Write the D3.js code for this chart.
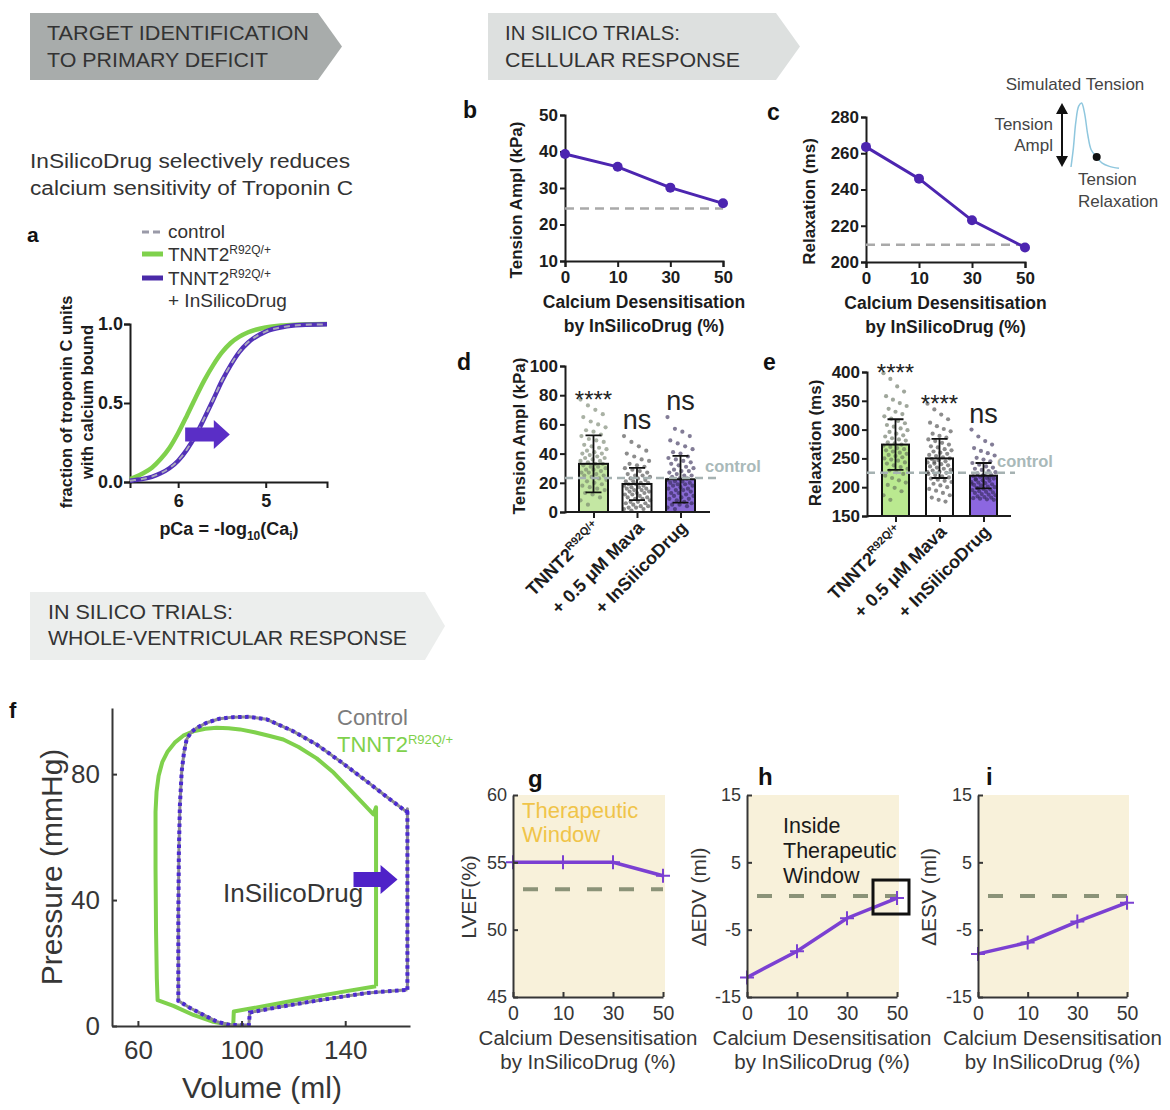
<!DOCTYPE html>
<html>
<head>
<meta charset="utf-8">
<script src="https://cdn.jsdelivr.net/npm/d3@7"></script>
<style>
  body { margin: 0; background: #fff; }
  svg { display: block; font-family: 'Liberation Sans', Arial, Helvetica, sans-serif; }
</style>
</head>
<body>
<svg id="fig" width="1170" height="1110"></svg>
<script>
// ---------- data ----------
// a: troponin C calcium binding curves
const pCa = [6.55, 6.5, 6.4, 6.3, 6.2, 6.1, 6.0, 5.9, 5.8, 5.7, 5.6, 5.5, 5.4, 5.3, 5.2, 5.0, 4.8, 4.6, 4.3]
const boundMutant = [0.02, 0.03, 0.055, 0.09, 0.145, 0.215, 0.31, 0.42, 0.535, 0.645, 0.74, 0.82, 0.88, 0.92, 0.948, 0.978, 0.991, 0.997, 1.0]
const boundDrug = [0.008, 0.012, 0.02, 0.033, 0.055, 0.087, 0.135, 0.205, 0.295, 0.405, 0.52, 0.64, 0.74, 0.824, 0.883, 0.952, 0.981, 0.993, 0.998]
const boundControl = [0.008, 0.012, 0.02, 0.034, 0.056, 0.088, 0.136, 0.206, 0.296, 0.406, 0.522, 0.641, 0.741, 0.825, 0.884, 0.952, 0.981, 0.993, 0.998]
const pCaTicks = [6, 5]
const fracTicks = [0, 0.5, 1]

// b, c: dose response
const doses = ['0', '10', '30', '50']
const tensionAmpl = [39.3, 35.8, 30.1, 25.8]
const tensionAmplControl = 24.4
const relaxation = [263.5, 246, 223, 208]
const relaxationControl = 209.5

// schematic tension trace for the inset (normalised time, normalised tension)
const traceT = [0, 0.05, 0.1, 0.16, 0.22, 0.28, 0.35, 0.42, 0.53, 0.65, 0.8, 1]
const traceV = [0, 0.3, 0.7, 0.95, 1.0, 0.85, 0.5, 0.27, 0.16, 0.06, 0.01, -0.02]
const traceDotT = 0.535

// d, e: bar + scatter
const groups = ['mutant', 'mava', 'drug']
const ampMean = [33, 19.2, 22.4]
const ampSD = [19.5, 11, 16]
const ampControl = 23.3
const ampSig = ['****', 'ns', 'ns']
const ampDots = [
  [77, 73, 70, 67, 65, 62, 60, 58, 56, 55, 53, 52, 50, 49, 48, 46, 45, 44, 43, 42, 41, 40, 40, 39, 38, 37, 37, 36, 35, 35, 34, 33, 33, 32, 31, 31, 30, 29, 29, 28, 27, 27, 26, 25, 25, 24, 23, 22, 21, 20, 19, 18, 17, 16, 15, 13, 12, 10, 8, 5],
  [52, 48, 45, 42, 40, 38, 36, 35, 33, 32, 31, 30, 29, 28, 27, 26, 25, 25, 24, 23, 23, 22, 21, 21, 20, 20, 19, 19, 18, 18, 17, 17, 16, 16, 15, 15, 14, 14, 13, 13, 12, 12, 11, 10, 10, 9, 9, 8, 7, 7, 6, 6, 5, 4, 4, 3, 3, 2, 2, 1],
  [65, 57, 55, 52, 49, 47, 45, 43, 41, 40, 38, 37, 36, 35, 34, 33, 32, 31, 30, 29, 28, 28, 27, 26, 25, 25, 24, 23, 23, 22, 21, 21, 20, 20, 19, 19, 18, 18, 17, 16, 16, 15, 15, 14, 13, 13, 12, 11, 11, 10, 9, 9, 8, 7, 6, 5, 5, 4, 3, 2]
]
const relMean = [274, 250, 220]
const relSD = [44, 34, 22]
const relControl = 225
const relSig = ['****', '****', 'ns']
const relDots = [
  [398, 388, 375, 366, 358, 352, 346, 341, 336, 331, 327, 323, 319, 315, 311, 308, 305, 302, 299, 296, 293, 290, 288, 285, 283, 281, 278, 276, 274, 272, 270, 268, 266, 264, 262, 260, 258, 256, 254, 252, 250, 248, 246, 243, 241, 238, 235, 232, 229, 226, 223, 220, 216, 212, 208, 204, 199, 193, 186, 178],
  [345, 335, 326, 318, 312, 306, 301, 297, 293, 289, 286, 283, 280, 277, 274, 271, 269, 266, 264, 262, 260, 258, 256, 254, 252, 250, 249, 247, 245, 243, 241, 240, 238, 236, 234, 232, 230, 229, 227, 225, 223, 221, 219, 217, 215, 213, 211, 209, 206, 203, 200, 197, 194, 190, 186, 182, 178, 175, 226, 244],
  [300, 288, 280, 274, 268, 263, 259, 255, 251, 248, 245, 242, 239, 236, 234, 232, 230, 228, 226, 224, 222, 221, 219, 218, 216, 215, 213, 212, 211, 209, 208, 207, 205, 204, 203, 201, 200, 199, 197, 196, 195, 193, 192, 191, 190, 188, 187, 186, 184, 183, 182, 181, 180, 179, 178, 214, 220, 217, 206, 198]
]

// f: pressure-volume loops [volume ml, pressure mmHg]
const pvMutant = [[151.9, 12.6], [151.9, 40], [151.9, 69.5], [150.9, 67.2], [146.5, 71], [141.9, 75], [135.5, 80.5], [129, 85], [122, 88.6], [116.1, 91], [110.5, 92.2], [105, 93.3], [99.4, 94.2], [95, 94.6], [90.4, 94.7], [86, 94.4], [81.4, 93.6], [77.5, 92.2], [74.2, 90], [71.5, 87.2], [69.4, 83.8], [68, 79.5], [67.2, 74.5], [66.8, 68], [66.8, 50], [67, 30], [67.3, 15], [67.6, 8.2], [73.7, 6.4], [81.4, 3.5], [89.1, 1.3], [95.6, 0.3], [96.8, 0.4], [97, 4.6], [110, 6.5], [125, 8.8], [140, 11], [151.9, 12.6]]
// control and InSilicoDrug loops coincide
const pvControl = [[164, 11.5], [164, 40], [164, 69], [163.7, 68], [156, 72.8], [148.3, 77.7], [138.5, 83.8], [129, 89.4], [119.5, 93.8], [109.7, 97.4], [103, 98.2], [96.8, 98.1], [91.5, 97.6], [86.5, 96.3], [82.7, 94.7], [80.5, 93.3], [78.8, 91], [77.8, 87], [76.9, 80.9], [76.2, 70], [75.8, 55], [75.6, 35], [75.6, 8], [80, 5.8], [84, 4.1], [90.4, 1.4], [95.6, 0.3], [102.8, 0.3], [103.2, 4.3], [115, 6.1], [130, 8.2], [148.3, 10.5], [164, 11.5]]
const volumeTicks = [60, 100, 140]
const pressureTicks = [0, 40, 80]

// g, h, i: whole-ventricle outputs
const lvef = [55, 55, 55, 54]
const lvefControl = 53
const dEDV = [-12.1, -8.2, -3.3, -0.3]
const dEDVControl = 0
const dESV = [-8.6, -6.9, -3.8, -1.0]
const dESVControl = 0

// ---------- drawing ----------
const svg = d3.select('#fig')
svg.append('rect').attr('width', 1170).attr('height', 1110).attr('fill', '#fff')

const GREEN = '#7fd14c'
const INK = '#1c1c1c'
const SOFT = '#363636'

function styleAxis (g, size, weight, color) {
  g.attr('font-family', null).attr('font-size', size).attr('font-weight', weight)
  g.select('.domain').attr('stroke', color).attr('stroke-width', 2)
  g.selectAll('.tick line').attr('stroke', color).attr('stroke-width', 2)
  g.selectAll('.tick text').attr('fill', color)
}

function yTitle (g, lines, x, y, size, weight, color, gap) {
  const t = g.append('text').attr('transform', `translate(${x},${y}) rotate(-90)`)
    .attr('text-anchor', 'middle').attr('font-size', size).attr('font-weight', weight).attr('fill', color)
  lines.forEach((l, i) => {
    t.append('tspan').attr('x', 0).attr('y', i * gap).attr('dy', '0.35em').text(l)
  })
  return t
}

function panelLabel (t, x, y, size) {
  svg.append('text').attr('x', x).attr('y', y).attr('font-size', size || 22)
    .attr('font-weight', 'bold').attr('fill', '#111').text(t)
}

// TNNT2 with the R92Q/+ superscript
function tnnt2 (sel, supSize, rise) {
  sel.append('tspan').text('TNNT2')
  sel.append('tspan').attr('dy', -rise).attr('font-size', supSize).text('R92Q/+')
  return sel
}

function blockArrow (g, x0, x1, yc, shaft, head, headLen, fill) {
  const xh = x1 - headLen
  g.append('path')
    .attr('d', `M${x0},${yc - shaft / 2}H${xh}V${yc - head / 2}L${x1},${yc}L${xh},${yc + head / 2}V${yc + shaft / 2}H${x0}Z`)
    .attr('fill', fill)
}

// banners
function banner (x0, xr, xt, y0, y1, fill, lines) {
  svg.append('path').attr('d', `M${x0},${y0}H${xr}L${xt},${(y0 + y1) / 2}L${xr},${y1}H${x0}Z`).attr('fill', fill)
  lines.forEach(l => {
    svg.append('text').attr('x', x0 + l.dx).attr('y', l.y).attr('font-size', 21).attr('fill', '#333')
      .attr('textLength', l.len).attr('lengthAdjust', 'spacingAndGlyphs').text(l.t)
  })
}
banner(30, 318, 342, 13, 80, '#a8acab', [
  { t: 'TARGET IDENTIFICATION', dx: 17, y: 40, len: 262 },
  { t: 'TO PRIMARY DEFICIT', dx: 17, y: 67, len: 221 }
])
banner(488, 776, 800, 13, 80, '#dde0df', [
  { t: 'IN SILICO TRIALS:', dx: 17, y: 40, len: 175 },
  { t: 'CELLULAR RESPONSE', dx: 17, y: 67, len: 235 }
])
banner(30, 425, 445, 592, 660, '#eceeed', [
  { t: 'IN SILICO TRIALS:', dx: 18, y: 619, len: 185 },
  { t: 'WHOLE-VENTRICULAR RESPONSE', dx: 18, y: 645, len: 359 }
])

svg.append('text').attr('x', 30).attr('y', 168).attr('font-size', 20).attr('fill', '#333')
  .attr('textLength', 320).attr('lengthAdjust', 'spacingAndGlyphs').text('InSilicoDrug selectively reduces')
svg.append('text').attr('x', 30).attr('y', 195).attr('font-size', 20).attr('fill', '#333')
  .attr('textLength', 323).attr('lengthAdjust', 'spacingAndGlyphs').text('calcium sensitivity of Troponin C')

// ---- panel a ----
;(function () {
  const g = svg.append('g')
  const x = d3.scaleLinear().domain([6.55, 4.3]).range([130, 327])
  const y = d3.scaleLinear().domain([0, 1]).range([482, 324])
  g.append('g').attr('transform', 'translate(0,482)')
    .call(d3.axisBottom(x).tickValues(pCaTicks).tickFormat(d3.format('d')).tickSizeOuter(0).tickSize(6).tickPadding(6))
    .call(s => styleAxis(s, 18, 'bold', INK))
  g.append('g').attr('transform', 'translate(130,0)')
    .call(d3.axisLeft(y).tickValues(fracTicks).tickFormat(d3.format('.1f')).tickSizeOuter(0).tickSize(6).tickPadding(1))
    .call(s => styleAxis(s, 18, 'bold', INK))

  const line = d3.line().x(d => x(d[0])).y(d => y(d[1])).curve(d3.curveMonotoneX)
  g.append('path').attr('d', line(pCa.map((p, i) => [p, boundMutant[i]])))
    .attr('fill', 'none').attr('stroke', GREEN).attr('stroke-width', 4.5)
  g.append('path').attr('d', line(pCa.map((p, i) => [p, boundDrug[i]])))
    .attr('fill', 'none').attr('stroke', '#5231b8').attr('stroke-width', 4.5)
  g.append('path').attr('d', line(pCa.map((p, i) => [p, boundControl[i]])))
    .attr('fill', 'none').attr('stroke', '#a9a7bd').attr('stroke-width', 2).attr('stroke-dasharray', '6,5')

  blockArrow(g, x(5.92), x(5.41), y(0.3), 14, 29, 16, '#5a2ec6')

  yTitle(g, ['fraction of troponin C units', 'with calcium bound'], 66, 402, 16.5, 'bold', INK, 21)
  const xt = g.append('text').attr('x', 229).attr('y', 535).attr('text-anchor', 'middle')
    .attr('font-size', 18).attr('font-weight', 'bold').attr('fill', INK)
  xt.append('tspan').text('pCa = -log')
  xt.append('tspan').attr('dy', 5).attr('font-size', 12).text('10')
  xt.append('tspan').attr('dy', -5).text('(Ca')
  xt.append('tspan').attr('dy', 5).attr('font-size', 12).text('i')
  xt.append('tspan').attr('dy', -5).text(')')

  // legend
  g.append('line').attr('x1', 142).attr('x2', 163).attr('y1', 232).attr('y2', 232)
    .attr('stroke', '#9a9aa8').attr('stroke-width', 3).attr('stroke-dasharray', '7,4')
  g.append('line').attr('x1', 142).attr('x2', 163).attr('y1', 254).attr('y2', 254)
    .attr('stroke', GREEN).attr('stroke-width', 5)
  g.append('line').attr('x1', 142).attr('x2', 163).attr('y1', 278).attr('y2', 278)
    .attr('stroke', '#4a2aa8').attr('stroke-width', 5)
  g.append('text').attr('x', 168).attr('y', 238).attr('font-size', 19).attr('fill', '#333').text('control')
  tnnt2(g.append('text').attr('x', 168).attr('y', 261).attr('font-size', 19).attr('fill', '#333'), 12, 7)
  tnnt2(g.append('text').attr('x', 168).attr('y', 285).attr('font-size', 19).attr('fill', '#333'), 12, 7)
  g.append('text').attr('x', 168).attr('y', 307).attr('font-size', 19).attr('fill', '#333').text('+ InSilicoDrug')
})()
panelLabel('a', 27, 242, 21)

// ---- panels b, c ----
function linePanel (o) {
  const g = svg.append('g')
  const x = d3.scalePoint().domain(doses).range([o.x0, o.x1])
  const y = d3.scaleLinear().domain(o.domain).range([o.yBot, o.yTop])
  g.append('g').attr('transform', `translate(0,${o.yBot})`)
    .call(d3.axisBottom(x).tickSizeOuter(0).tickSize(6).tickPadding(4))
    .call(s => styleAxis(s, 17, 'bold', INK))
  g.append('g').attr('transform', `translate(${o.x0},0)`)
    .call(d3.axisLeft(y).tickValues(o.ticks).tickSizeOuter(0).tickSize(5).tickPadding(2))
    .call(s => styleAxis(s, 17, 'bold', INK))
  g.append('line').attr('x1', o.x0).attr('x2', o.x1).attr('y1', y(o.ctrl)).attr('y2', y(o.ctrl))
    .attr('stroke', '#a9a9a9').attr('stroke-width', 2.5).attr('stroke-dasharray', '9,6')
  const pts = doses.map((d, i) => [x(d), y(o.values[i])])
  g.append('path').attr('d', d3.line()(pts)).attr('fill', 'none').attr('stroke', '#4c25b0').attr('stroke-width', 3)
  g.selectAll('circle.pt').data(pts).enter().append('circle')
    .attr('cx', d => d[0]).attr('cy', d => d[1]).attr('r', 5).attr('fill', '#4c25b0')
  yTitle(g, [o.yTitle], o.yTitleX, (o.yTop + o.yBot) / 2 + 12, 17, 'bold', INK, 0)
  const cx = (o.x0 + o.x1) / 2
  g.append('text').attr('x', cx).attr('y', o.yBot + 47).attr('text-anchor', 'middle')
    .attr('font-size', 17.5).attr('font-weight', 'bold').attr('fill', INK).text('Calcium Desensitisation')
  g.append('text').attr('x', cx).attr('y', o.yBot + 71).attr('text-anchor', 'middle')
    .attr('font-size', 17.5).attr('font-weight', 'bold').attr('fill', INK).text('by InSilicoDrug (%)')
}
linePanel({ x0: 565, x1: 723, yTop: 115, yBot: 261, domain: [10, 50], ticks: [10, 20, 30, 40, 50],
  values: tensionAmpl, ctrl: tensionAmplControl, yTitle: 'Tension Ampl (kPa)', yTitleX: 516 })
linePanel({ x0: 866, x1: 1025, yTop: 117, yBot: 262, domain: [200, 280], ticks: [200, 220, 240, 260, 280],
  values: relaxation, ctrl: relaxationControl, yTitle: 'Relaxation (ms)', yTitleX: 809 })
panelLabel('b', 463, 118, 23)
panelLabel('c', 767, 120, 23)

// inset: simulated tension schematic
;(function () {
  const g = svg.append('g')
  const x = d3.scaleLinear().domain([0, 1]).range([1071, 1119])
  const y = d3.scaleLinear().domain([0, 1]).range([167, 103])
  const trace = d3.line().x(d => x(d[0])).y(d => y(d[1])).curve(d3.curveCatmullRom)
  g.append('path').attr('d', trace(traceT.map((t, i) => [t, traceV[i]])))
    .attr('fill', 'none').attr('stroke', '#8fc7de').attr('stroke-width', 1.5)
  const dotV = d3.scaleLinear().domain(traceT).range(traceV)
  g.append('circle').attr('cx', x(traceDotT)).attr('cy', y(dotV(traceDotT))).attr('r', 4).attr('fill', '#111')
  // double headed arrow spanning trace amplitude
  const ax = 1062, top = y(1), bot = y(0)
  g.append('line').attr('x1', ax).attr('x2', ax).attr('y1', top + 8).attr('y2', bot - 8).attr('stroke', '#111').attr('stroke-width', 2)
  g.append('path').attr('d', `M${ax},${top}L${ax - 6},${top + 11}L${ax + 6},${top + 11}Z`).attr('fill', '#111')
  g.append('path').attr('d', `M${ax},${bot}L${ax - 6},${bot - 11}L${ax + 6},${bot - 11}Z`).attr('fill', '#111')
  g.append('text').attr('x', 1075).attr('y', 90).attr('text-anchor', 'middle').attr('font-size', 17).attr('fill', '#444').text('Simulated Tension')
  g.append('text').attr('x', 1053).attr('y', 130).attr('text-anchor', 'end').attr('font-size', 17).attr('fill', '#444').text('Tension')
  g.append('text').attr('x', 1053).attr('y', 151).attr('text-anchor', 'end').attr('font-size', 17).attr('fill', '#444').text('Ampl')
  g.append('text').attr('x', 1078).attr('y', 185).attr('font-size', 17).attr('fill', '#444').text('Tension')
  g.append('text').attr('x', 1078).attr('y', 207).attr('font-size', 17).attr('fill', '#444').text('Relaxation')
})()

// ---- panels d, e ----
function barPanel (o) {
  const g = svg.append('g')
  const x = d3.scalePoint().domain(groups).range(o.centers)
  const y = d3.scaleLinear().domain(o.domain).range([o.yBot, o.yTop])
  const bw = o.bw
  // bar fills
  g.selectAll('rect.fill').data(groups).enter().append('rect')
    .attr('x', d => x(d) - bw / 2).attr('width', bw)
    .attr('y', (d, i) => y(o.means[i])).attr('height', (d, i) => o.yBot - y(o.means[i]))
    .attr('fill', (d, i) => o.fills[i])
  // individual cells
  groups.forEach((gr, gi) => {
    g.selectAll(null).data(o.dots[gi]).enter().append('circle')
      .attr('cx', (v, i) => x(gr) + (((i * 37) % 29) / 28 - 0.5) * (bw - 3))
      .attr('cy', v => y(v)).attr('r', 2.1)
      .attr('fill', o.dotColors[gi]).attr('fill-opacity', 0.6)
  })
  // bar outlines
  g.selectAll('rect.edge').data(groups).enter().append('rect')
    .attr('x', d => x(d) - bw / 2).attr('width', bw)
    .attr('y', (d, i) => y(o.means[i])).attr('height', (d, i) => o.yBot - y(o.means[i]))
    .attr('fill', 'none').attr('stroke', '#111').attr('stroke-width', 2)
  // SD error bars
  groups.forEach((gr, gi) => {
    const cx = x(gr)
    const hi = y(o.means[gi] + o.sds[gi])
    const lo = y(Math.max(o.domain[0], o.means[gi] - o.sds[gi]))
    g.append('path').attr('d', `M${cx},${lo}V${hi}M${cx - 8},${hi}H${cx + 8}M${cx - 8},${lo}H${cx + 8}`)
      .attr('stroke', '#111').attr('stroke-width', 1.8).attr('fill', 'none')
  })
  g.append('g').attr('transform', `translate(0,${o.yBot})`)
    .call(d3.axisBottom(x).tickSizeOuter(0).tickSize(6).tickFormat(''))
    .call(s => styleAxis(s, 17, 'bold', INK))
    .select('.domain').attr('d', `M${o.x0},0H${o.x1}`)
  g.append('g').attr('transform', `translate(${o.x0},0)`)
    .call(d3.axisLeft(y).tickValues(o.ticks).tickSizeOuter(0).tickSize(5).tickPadding(2))
    .call(s => styleAxis(s, 17, 'bold', INK))
  // control line
  g.append('line').attr('x1', o.x0).attr('x2', o.ctrlEnd).attr('y1', y(o.ctrl)).attr('y2', y(o.ctrl))
    .attr('stroke', '#a6b2b2').attr('stroke-width', 2.5).attr('stroke-dasharray', '8,5')
  g.append('text').attr('x', o.ctrlTextX).attr('y', y(o.ctrl) - 6).attr('font-size', 16.5).attr('font-weight', 'bold')
    .attr('fill', '#a9b9b9').text('control')
  // significance
  groups.forEach((gr, gi) => {
    const top = y(d3.max(o.dots[gi]))
    const s = o.sig[gi]
    g.append('text').attr('x', x(gr)).attr('y', s === 'ns' ? top - 7 : top + 8).attr('text-anchor', 'middle')
      .attr('font-size', s === 'ns' ? 27 : 24).attr('fill', '#222').text(s)
  })
  // rotated group labels
  groups.forEach((gr, gi) => {
    const t = g.append('text').attr('transform', `translate(${x(gr) + 8},${o.yBot + 17}) rotate(-45)`)
      .attr('text-anchor', 'end').attr('font-size', 18).attr('font-weight', 'bold').attr('fill', INK)
    if (gi === 0) tnnt2(t, 11, 7)
    else t.text(gi === 1 ? '+ 0.5 μM Mava' : '+ InSilicoDrug')
  })
  yTitle(g, [o.yTitle], o.yTitleX, o.yTitleY, 17, 'bold', INK, 0)
}
barPanel({ x0: 565, x1: 710, centers: [593.5, 680.5], bw: 29, yTop: 366, yBot: 512, domain: [0, 100],
  ticks: [0, 20, 40, 60, 80, 100], means: ampMean, sds: ampSD, dots: ampDots, ctrl: ampControl, sig: ampSig,
  fills: ['#c4e7a3', '#ffffff', '#8a6bd6'], dotColors: ['#6f7d68', '#3f3f3f', '#2e2450'],
  ctrlEnd: 717, ctrlTextX: 705, yTitle: 'Tension Ampl (kPa)', yTitleX: 519, yTitleY: 436 })
barPanel({ x0: 867, x1: 1011, centers: [895.5, 983.5], bw: 27, yTop: 372, yBot: 516, domain: [150, 400],
  ticks: [150, 200, 250, 300, 350, 400], means: relMean, sds: relSD, dots: relDots, ctrl: relControl, sig: relSig,
  fills: ['#bae990', '#ffffff', '#8c67e0'], dotColors: ['#5f6a58', '#3f3f3f', '#2e2450'],
  ctrlEnd: 1015, ctrlTextX: 997, yTitle: 'Relaxation (ms)', yTitleX: 815, yTitleY: 443 })
panelLabel('d', 457, 370, 23)
panelLabel('e', 763, 370, 23)

// ---- panel f ----
;(function () {
  const g = svg.append('g')
  const x = d3.scaleLinear().domain([50, 165]).range([112, 410])
  const y = d3.scaleLinear().domain([0, 101]).range([1026, 708])
  const loop = d3.line().x(d => x(d[0])).y(d => y(d[1]))
  g.append('path').attr('d', loop(pvMutant)).attr('fill', 'none').attr('stroke', GREEN)
    .attr('stroke-width', 4).attr('stroke-linejoin', 'round')
  g.append('path').attr('d', loop(pvControl)).attr('fill', 'none').attr('stroke', '#8a8a92')
    .attr('stroke-width', 3).attr('stroke-linejoin', 'round')
  g.append('path').attr('d', loop(pvControl)).attr('fill', 'none').attr('stroke', '#4b2ad0')
    .attr('stroke-width', 4).attr('stroke-dasharray', '3.5,3.5')
  g.append('g').attr('transform', 'translate(0,1026)')
    .call(d3.axisBottom(x).tickValues(volumeTicks).tickSizeOuter(0).tickSizeInner(-5).tickPadding(15))
    .call(s => styleAxis(s, 26, 'normal', SOFT))
  g.append('g').attr('transform', 'translate(112,0)')
    .call(d3.axisLeft(y).tickValues(pressureTicks).tickSizeOuter(0).tickSizeInner(-5).tickPadding(12))
    .call(s => styleAxis(s, 26, 'normal', SOFT))
  yTitle(g, ['Pressure (mmHg)'], 51, 867, 30, 'normal', SOFT, 0)
  g.append('text').attr('x', 262).attr('y', 1098).attr('text-anchor', 'middle').attr('font-size', 30)
    .attr('fill', SOFT).text('Volume (ml)')
  g.append('text').attr('x', 337).attr('y', 725).attr('font-size', 22).attr('fill', '#7c7c7c').text('Control')
  tnnt2(g.append('text').attr('x', 337).attr('y', 752).attr('font-size', 22).attr('fill', GREEN), 13, 8)
  g.append('text').attr('x', 223).attr('y', 902).attr('font-size', 26).attr('fill', SOFT).text('InSilicoDrug')
  blockArrow(g, x(143.2), x(160.2), y(46.5), 15, 29, 17, '#4f22c8')
})()
panelLabel('f', 9, 718, 22)

// ---- panels g, h, i ----
function matPanel (o) {
  const g = svg.append('g')
  const x = d3.scalePoint().domain(doses).range([o.x0, o.x1])
  const y = d3.scaleLinear().domain(o.domain).range([997, 795])
  g.append('rect').attr('x', o.x0).attr('y', 795).attr('width', o.x1 - o.x0 + 2).attr('height', 202).attr('fill', '#f8f1da')
  g.append('line').attr('x1', o.x0 + 10).attr('x2', o.x1).attr('y1', y(o.ctrl)).attr('y2', y(o.ctrl))
    .attr('stroke', '#8b9378').attr('stroke-width', 4).attr('stroke-dasharray', '15,17')
  const pts = doses.map((d, i) => [x(d), y(o.values[i])])
  g.append('path').attr('d', d3.line()(pts)).attr('fill', 'none').attr('stroke', '#7b40d2').attr('stroke-width', 3.5)
  g.selectAll('path.mk').data(pts).enter().append('path')
    .attr('d', d => `M${d[0] - 7},${d[1]}H${d[0] + 7}M${d[0]},${d[1] - 7}V${d[1] + 7}`)
    .attr('stroke', '#7b40d2').attr('stroke-width', 2)
  g.append('g').attr('transform', 'translate(0,997)')
    .call(d3.axisBottom(x).tickSizeOuter(0).tickSizeInner(-5).tickPadding(9))
    .call(s => styleAxis(s, 19.5, 'normal', SOFT))
  g.append('g').attr('transform', `translate(${o.x0},0)`)
    .call(d3.axisLeft(y).tickValues(o.ticks).tickFormat(d => String(d)).tickSizeOuter(0).tickSizeInner(-5).tickPadding(6))
    .call(s => styleAxis(s, 18, 'normal', SOFT))
  yTitle(g, [o.yTitle], o.yTitleX, 897, 21, 'normal', SOFT, 0)
  const cx = (o.x0 + o.x1) / 2
  g.append('text').attr('x', cx).attr('y', 1045).attr('text-anchor', 'middle').attr('font-size', 20.5)
    .attr('fill', SOFT).text('Calcium Desensitisation')
  g.append('text').attr('x', cx).attr('y', 1069).attr('text-anchor', 'middle').attr('font-size', 20.5)
    .attr('fill', SOFT).text('by InSilicoDrug (%)')
  return { g, x, y }
}
const pg = matPanel({ x0: 513, x1: 663, domain: [45, 60], ticks: [45, 50, 55, 60], values: lvef, ctrl: lvefControl,
  yTitle: 'LVEF(%)', yTitleX: 469 })
pg.g.append('text').attr('x', 522).attr('y', 818).attr('font-size', 22).attr('fill', '#f0c449').text('Therapeutic')
pg.g.append('text').attr('x', 522).attr('y', 842).attr('font-size', 22).attr('fill', '#f0c449').text('Window')

const ph = matPanel({ x0: 747, x1: 897, domain: [-15, 15], ticks: [-15, -5, 5, 15], values: dEDV, ctrl: dEDVControl,
  yTitle: 'ΔEDV (ml)', yTitleX: 699 })
;['Inside', 'Therapeutic', 'Window'].forEach((t, i) => {
  ph.g.append('text').attr('x', 783).attr('y', 833 + i * 25).attr('font-size', 21.5).attr('fill', '#1a1a1a').text(t)
})
const hx = ph.x('50')
const hy = ph.y(dEDV[3])
ph.g.append('rect').attr('x', hx - 24).attr('y', hy - 18).attr('width', 36).attr('height', 34)
  .attr('fill', 'none').attr('stroke', '#111').attr('stroke-width', 3)

matPanel({ x0: 978, x1: 1127, domain: [-15, 15], ticks: [-15, -5, 5, 15], values: dESV, ctrl: dESVControl,
  yTitle: 'ΔESV (ml)', yTitleX: 929 })

panelLabel('g', 528, 787, 24)
panelLabel('h', 758, 785, 24)
panelLabel('i', 986, 785, 24)
</script>
</body>
</html>
